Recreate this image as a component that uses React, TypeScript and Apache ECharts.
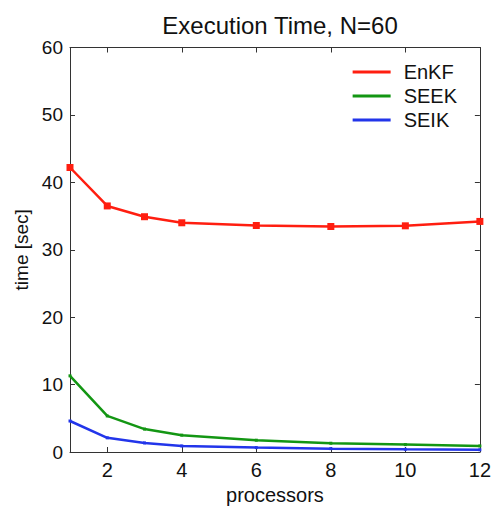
import React, { useEffect, useRef } from "react";
import * as echarts from "echarts";

const processors = [1, 2, 3, 4, 6, 8, 10, 12];
const enkf = [42.2, 36.5, 34.9, 34.0, 33.6, 33.45, 33.55, 34.2];
const seek = [11.3, 5.35, 3.4, 2.5, 1.75, 1.3, 1.1, 0.9];
const seik = [4.6, 2.1, 1.35, 0.9, 0.65, 0.5, 0.4, 0.33];
const xTicks = [2, 4, 6, 8, 10, 12];
const seriesNames = ["EnKF", "SEEK", "SEIK"];

const FONT = "Liberation Sans, Arial, sans-serif";

export default function App() {
  const ref = useRef<HTMLDivElement>(null);
  useEffect(() => {
    document.body.style.margin = "0";
    document.body.style.overflow = "hidden";
    if (!ref.current) return;
    const chart = echarts.init(ref.current, null, { renderer: "svg" });
    const toPairs = (vals: number[]) => processors.map((p, i) => [p, vals[i]]);
    const axisLine = { show: true, onZero: false, lineStyle: { color: "#333", width: 1 } };
    const xBase = {
      type: "value" as const,
      min: 1,
      max: 12,
      axisLine,
      splitLine: { show: false },
      axisTick: { show: true, inside: true, length: 5, customValues: xTicks, lineStyle: { color: "#333" } },
    };
    const yBase = {
      type: "value" as const,
      min: 0,
      max: 60,
      interval: 10,
      axisLine,
      splitLine: { show: false },
      axisTick: { show: true, inside: true, length: 5, lineStyle: { color: "#333" } },
    };
    const colors = ["#ff1e10", "#139613", "#2235ea"];
    const datas = [enkf, seek, seik];
    chart.setOption({
      animation: false,
      color: colors,
      title: {
        text: "Execution Time, N=60",
        left: 275,
        textAlign: "center",
        top: 8,
        textStyle: { fontFamily: FONT, fontSize: 24, fontWeight: "normal", color: "#111" },
      },
      legend: {
        orient: "vertical",
        right: 32,
        top: 57,
        itemWidth: 38,
        itemHeight: 3,
        itemGap: 4,
        icon: "rect",
        data: seriesNames,
        textStyle: { fontFamily: FONT, fontSize: 20, color: "#111", padding: [0, 0, 0, 8] },
      },
      grid: { left: 70, right: 12, top: 47.5, bottom: 56.5 },
      xAxis: [
        {
          ...xBase,
          name: "processors",
          nameLocation: "middle",
          nameGap: 33,
          nameTextStyle: { fontFamily: FONT, fontSize: 20, color: "#111" },
          axisLabel: { customValues: xTicks, fontFamily: FONT, fontSize: 20, color: "#111", margin: 8 },
        },
        { ...xBase, position: "top", axisLabel: { show: false } },
      ],
      yAxis: [
        {
          ...yBase,
          name: "time [sec]",
          nameLocation: "middle",
          nameGap: 35,
          nameTextStyle: { fontFamily: FONT, fontSize: 19, color: "#111" },
          axisLabel: { fontFamily: FONT, fontSize: 19, color: "#111", margin: 7 },
        },
        { ...yBase, position: "right", axisLabel: { show: false } },
      ],
      series: seriesNames.map((name, i) => ({
        name,
        type: "line",
        data: toPairs(datas[i]),
        symbol: "rect",
        symbolSize: i === 0 ? 7 : 3,
        showSymbol: true,
        lineStyle: { width: 2.5, color: colors[i] },
        itemStyle: { color: colors[i] },
        clip: false,
      })),
    });
    return () => chart.dispose();
  }, []);
  return <div ref={ref} style={{ position: "absolute", left: 0, top: 0, width: 494, height: 510 }} />;
}
